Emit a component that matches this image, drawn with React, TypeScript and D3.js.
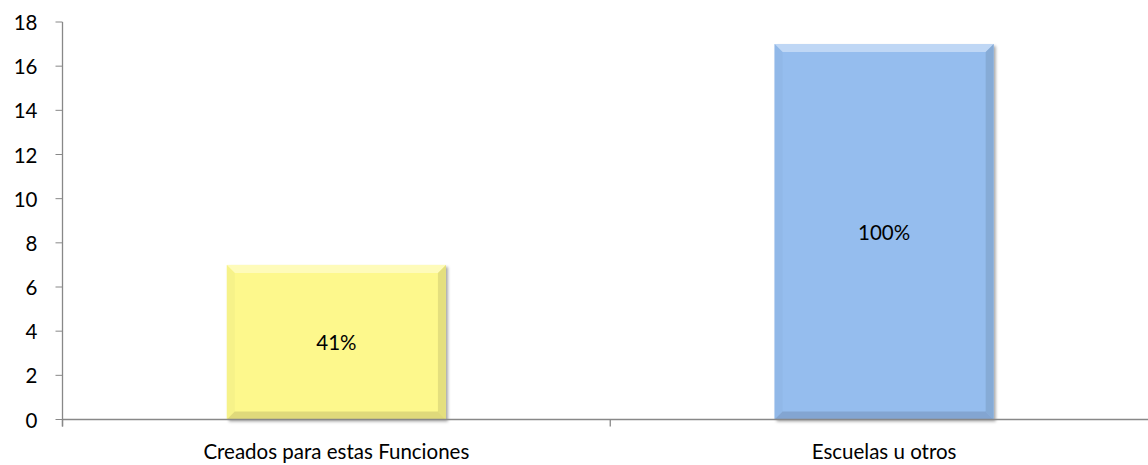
import React from "react";
import * as d3 from "d3";

const categories = ["Creados para estas Funciones", "Escuelas u otros"];
const values = [7, 17];
const labels = ["41%", "100%"];
const colors = ["#FDF88C", "#95BDEE"];
const yTicks = [0, 2, 4, 6, 8, 10, 12, 14, 16, 18];

const W = 1148;
const H = 465;
const left = 62.5;
const right = 1158;
const top = 22;
const bottom = 419.5;

export default function App() {
  const x = d3.scaleBand<string>().domain(categories).range([left, right]).paddingInner(0.6).paddingOuter(0.3);
  const y = d3.scaleLinear().domain([0, 18]).range([bottom, top]);
  const font = "Lato, 'Open Sans', sans-serif";
  const fs = 20.5;
  const b = 8;
  const catW = (right - left) / categories.length;
  return (
    <svg width={W} height={H} style={{ position: "absolute", left: 0, top: 0, background: "#fff" }}>
      <defs>
        <filter id="sh" x="-10%" y="-10%" width="130%" height="130%">
          <feDropShadow dx="2" dy="2" stdDeviation="1.5" floodColor="#000" floodOpacity="0.35" />
        </filter>
      </defs>
      {yTicks.map((t) => (
        <g key={t}>
          <line x1={left - 7} x2={left} y1={y(t)} y2={y(t)} stroke="#888" strokeWidth={1} />
          <text x={left - 25} y={y(t)} textAnchor="end" dominantBaseline="central" fontFamily={font} fontSize={fs} fill="#000">
            {t}
          </text>
        </g>
      ))}
      <line x1={left} x2={left} y1={top} y2={bottom + 7} stroke="#888" strokeWidth={1.3} />
      {categories.map((c, i) => {
        const x0 = x(c)!;
        const bw = x.bandwidth();
        const y0 = y(values[i]);
        const x1 = x0 + bw;
        const y1 = bottom;
        const col = d3.color(colors[i])!;
        const light = d3.interpolateRgb(colors[i], "#fff")(0.4);
        const dark = col.darker(0.5).toString();
        const side = col.darker(0.15).toString();
        return (
          <g key={c}>
            <rect x={x0} y={y0} width={bw} height={y1 - y0} fill={colors[i]} filter="url(#sh)" />
            <polygon points={`${x0},${y0} ${x1},${y0} ${x1 - b},${y0 + b} ${x0 + b},${y0 + b}`} fill={light} />
            <polygon points={`${x0},${y0} ${x0 + b},${y0 + b} ${x0 + b},${y1 - b} ${x0},${y1}`} fill={side} opacity={0.5} />
            <polygon points={`${x1},${y0} ${x1},${y1} ${x1 - b},${y1 - b} ${x1 - b},${y0 + b}`} fill={dark} opacity={0.6} />
            <polygon points={`${x0},${y1} ${x1},${y1} ${x1 - b},${y1 - b} ${x0 + b},${y1 - b}`} fill={dark} opacity={0.75} />
            <text x={x0 + bw / 2} y={(y0 + y1) / 2} textAnchor="middle" dominantBaseline="central" fontFamily={font} fontSize={fs} fill="#000">
              {labels[i]}
            </text>
          </g>
        );
      })}
      <line x1={left} x2={W} y1={bottom} y2={bottom} stroke="#888" strokeWidth={1.3} />
      {[0, 1, 2].map((k) => {
        const xx = left + k * catW;
        return <line key={k} x1={xx} x2={xx} y1={bottom} y2={bottom + 7} stroke="#888" strokeWidth={1.3} />;
      })}
      {categories.map((c) => (
        <text key={c} x={x(c)! + x.bandwidth() / 2} y={459} textAnchor="middle" fontFamily={font} fontSize={fs} fill="#000">
          {c}
        </text>
      ))}
    </svg>
  );
}
